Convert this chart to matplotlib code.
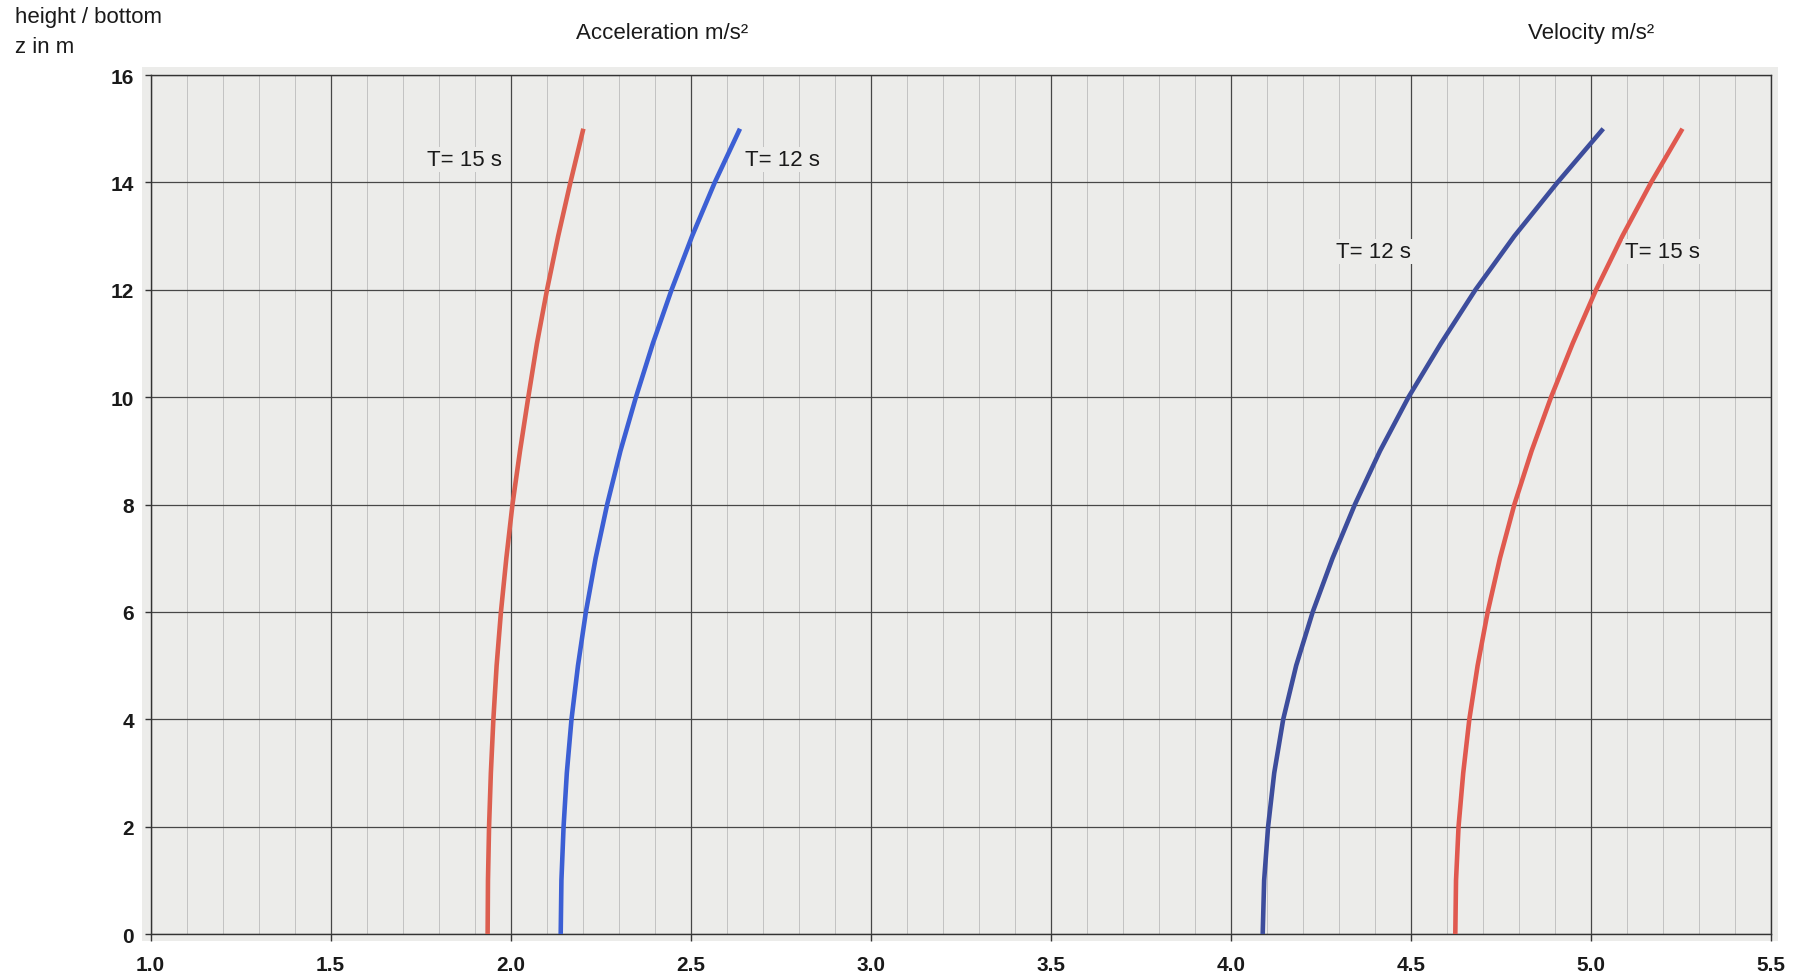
import matplotlib
matplotlib.use("Agg")
import matplotlib.pyplot as plt
from matplotlib.patches import Rectangle
from matplotlib.ticker import MultipleLocator

plt.rcParams['font.family'] = ['Liberation Sans', 'DejaVu Sans']

# ---- data ----
z = [0, 1, 2, 3, 4, 5, 6, 7, 8, 9, 10, 11, 12, 13, 14, 15]
acc_T15 = [1.936, 1.937, 1.940, 1.945, 1.952, 1.961, 1.973, 1.988, 2.005, 2.026,
           2.049, 2.073, 2.101, 2.132, 2.166, 2.202]
acc_T12 = [2.139, 2.141, 2.147, 2.156, 2.169, 2.187, 2.209, 2.236, 2.268, 2.305,
           2.348, 2.395, 2.447, 2.504, 2.567, 2.637]
vel_T12 = [4.089, 4.093, 4.104, 4.121, 4.146, 4.182, 4.228, 4.283, 4.345, 4.415,
           4.494, 4.584, 4.680, 4.788, 4.908, 5.035]
vel_T15 = [4.624, 4.626, 4.633, 4.646, 4.663, 4.686, 4.714, 4.748, 4.788, 4.836,
           4.890, 4.950, 5.015, 5.088, 5.168, 5.255]

x_ticks = [1.0, 1.5, 2.0, 2.5, 3.0, 3.5, 4.0, 4.5, 5.0, 5.5]
x_ticklabels = ["1.0", "1.5", "2.0", "2.5", "3.0", "3.5", "4.0", "4.5", "5.0", "5.5"]
y_ticks = [0, 2, 4, 6, 8, 10, 12, 14, 16]

labels = ["T= 15 s", "T= 12 s", "T= 12 s", "T= 15 s"]
label_x = [1.872, 2.755, 4.397, 5.200]
label_z = [14.42, 14.42, 12.72, 12.72]

# ---- figure ----
BG = "#ececea"
fig = plt.figure(figsize=(18, 9.79), dpi=100)
fig.patch.set_facecolor("white")
fig.patches.append(Rectangle((0.0789, 0.0378), 0.909, 0.8928, transform=fig.transFigure,
                             facecolor=BG, edgecolor="none", zorder=-5))

ax = fig.add_axes([0.0837, 0.04494, 0.9, 0.8774])
ax.set_zorder(1)
ax.set_facecolor(BG)
ax.set_xlim(1.0, 5.5)
ax.set_ylim(0, 16)

ax.xaxis.set_minor_locator(MultipleLocator(0.1))
ax.set_xticks(x_ticks)
ax.set_xticklabels(x_ticklabels)
ax.set_yticks(y_ticks)

ax.grid(which="minor", axis="x", color="#c2c2c2", linewidth=0.7, zorder=0)
ax.grid(which="major", axis="both", color="#474747", linewidth=0.9, zorder=0)
ax.set_axisbelow(True)
for s in ax.spines.values():
    s.set_color("#333333")
    s.set_linewidth(1.0)

ax.tick_params(axis="x", which="major", length=5, width=1, color="#333333",
               pad=10, labelsize=15)
ax.tick_params(axis="x", which="minor", length=0)
ax.tick_params(axis="y", which="major", length=4, width=1, color="#333333",
               pad=8, labelsize=15)
for t in ax.get_xticklabels() + ax.get_yticklabels():
    t.set_fontweight("bold")
    t.set_color("#1a1a1a")

lw = 3.3
ax.plot(acc_T15, z, color="#dc5f50", lw=lw, solid_capstyle="butt", zorder=3)
ax.plot(acc_T12, z, color="#3c5fd4", lw=lw, solid_capstyle="butt", zorder=3)
ax.plot(vel_T12, z, color="#3d4d9c", lw=lw, solid_capstyle="butt", zorder=3)
ax.plot(vel_T15, z, color="#e0594f", lw=lw, solid_capstyle="butt", zorder=3)

for txt, lx, lz in zip(labels, label_x, label_z):
    ax.text(lx, lz, txt, ha="center", va="center", fontsize=16, color="#1a1a1a",
            zorder=5, bbox=dict(facecolor=BG, edgecolor="none", pad=1.5))

fig.text(0.0083, 0.9826, "height / bottom", ha="left", va="center", fontsize=16, color="#1a1a1a")
fig.text(0.0083, 0.951, "z in m", ha="left", va="center", fontsize=16, color="#1a1a1a")
fig.text(0.368, 0.966, "Acceleration m/s²", ha="center", va="center", fontsize=16, color="#1a1a1a")
fig.text(0.884, 0.966, "Velocity m/s²", ha="center", va="center", fontsize=16, color="#1a1a1a")

fig.savefig("out.png", dpi=100, facecolor="white")
